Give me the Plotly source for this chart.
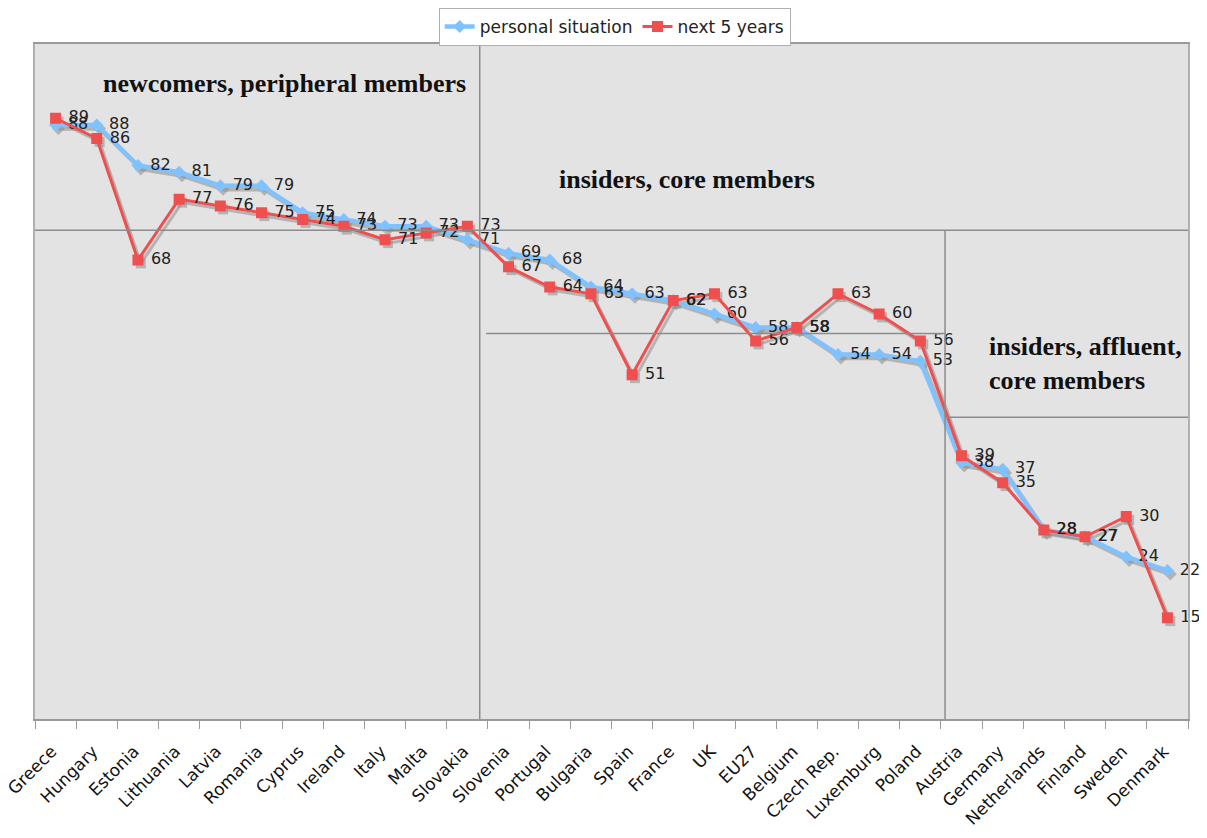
import plotly.graph_objects as go

countries = ["Greece", "Hungary", "Estonia", "Lithuania", "Latvia", "Romania", "Cyprus",
             "Ireland", "Italy", "Malta", "Slovakia", "Slovenia", "Portugal", "Bulgaria",
             "Spain", "France", "UK", "EU27", "Belgium", "Czech Rep.", "Luxemburg", "Poland",
             "Austria", "Germany", "Netherlands", "Finland", "Sweden", "Denmark"]
personal = [88, 88, 82, 81, 79, 79, 75, 74, 73, 73, 71, 69, 68, 64, 63, 62, 60, 58, 58,
            54, 54, 53, 38, 37, 28, 27, 24, 22]
next5 = [89, 86, 68, 77, 76, 75, 74, 73, 71, 72, 73, 67, 64, 63, 51, 62, 63, 56, 58,
         63, 60, 56, 39, 35, 28, 27, 30, 15]

idx = list(range(len(countries)))
BLUE = "#80c2ff"
RED = "#ef4f4f"
SHADOW = "rgba(140,140,140,0.55)"

fig = go.Figure()
# shadows
for vals, sym, w in ((personal, "diamond", 4.5), (next5, "square", 3)):
    fig.add_trace(go.Scatter(
        x=[i + 0.07 for i in idx], y=[v - 0.5 for v in vals], mode="lines+markers",
        line=dict(color=SHADOW, width=w), marker=dict(symbol=sym, size=10, color=SHADOW),
        showlegend=False, hoverinfo="skip", cliponaxis=False))

fig.add_trace(go.Scatter(
    x=idx, y=personal, mode="lines+markers+text", name="personal situation",
    line=dict(color=BLUE, width=4.5), marker=dict(symbol="diamond", size=10, color=BLUE),
    text=[" " + str(v) for v in personal], textposition="middle right", cliponaxis=False,
    textfont=dict(family="DejaVu Sans", size=16, color="#222222")))
fig.add_trace(go.Scatter(
    x=idx, y=next5, mode="lines+markers+text", name="next 5 years",
    line=dict(color=RED, width=3), marker=dict(symbol="square", size=11, color=RED),
    text=[" " + str(v) for v in next5], textposition="middle right", cliponaxis=False,
    textfont=dict(family="DejaVu Sans", size=16, color="#222222")))

lc = dict(color="#8c8c8c", width=1.5)
shapes = [
    dict(type="line", xref="x", yref="y", x0=10.3, x1=10.3, y0=0, y1=100, line=lc),
    dict(type="line", xref="x", yref="y", x0=21.6, x1=21.6, y0=0, y1=72.4, line=lc),
    dict(type="line", xref="x", yref="y", x0=-0.5, x1=27.5, y0=72.4, y1=72.4, line=lc),
    dict(type="line", xref="x", yref="y", x0=10.45, x1=21.6, y0=57.1, y1=57.1, line=lc),
    dict(type="line", xref="x", yref="y", x0=21.6, x1=27.5, y0=44.7, y1=44.7, line=lc),
]

afont = dict(family="Liberation Serif", size=26, color="#111111")
annotations = [
    dict(x=5.55, y=94.1, xref="x", yref="y", text="<b>newcomers, peripheral members</b>",
         showarrow=False, font=afont),
    dict(x=15.33, y=80.0, xref="x", yref="y", text="<b>insiders, core members</b>",
         showarrow=False, font=afont),
    dict(x=22.63, y=52.7, xref="x", yref="y", xanchor="left", align="left",
         text="<b>insiders, affluent,<br>core members</b>", showarrow=False,
         font=afont),
]

fig.update_layout(
    width=1199, height=830,
    margin=dict(l=27, r=19, t=36, b=119, autoexpand=False),
    paper_bgcolor="white", plot_bgcolor="#e3e3e3",
    shapes=shapes, annotations=annotations,
    showlegend=True,
    legend=dict(orientation="h", x=0.506, xanchor="center", y=1.0, yanchor="top",
                yref="container", xref="container",
                bordercolor="#b0b0b0", borderwidth=1, bgcolor="white",
                font=dict(family="DejaVu Sans", size=17, color="#222222"),
                traceorder="normal", itemwidth=30, tracegroupgap=0),
    xaxis=dict(range=[-0.5, 27.5], tickmode="array", tickvals=idx,
               ticktext=[c + " " for c in countries],
               tickangle=-45, ticks="", showgrid=False, zeroline=False, automargin=False,
               showline=True, linecolor="#9a9a9a", linewidth=2, mirror=True,
               ticklabelstandoff=10, ticklabeloverflow="allow",
               tickfont=dict(family="DejaVu Sans", size=17, color="#111111"),
               minor=dict(tick0=-0.5, dtick=1, ticks="outside", ticklen=8,
                          tickcolor="#9a9a9a", showgrid=False)),
    yaxis=dict(range=[0, 100], showticklabels=False, ticks="", showgrid=False,
               zeroline=False, showline=True, linecolor="#b0b0b0", linewidth=1.5,
               mirror=True, automargin=False),
)

fig.write_html("out.html")
